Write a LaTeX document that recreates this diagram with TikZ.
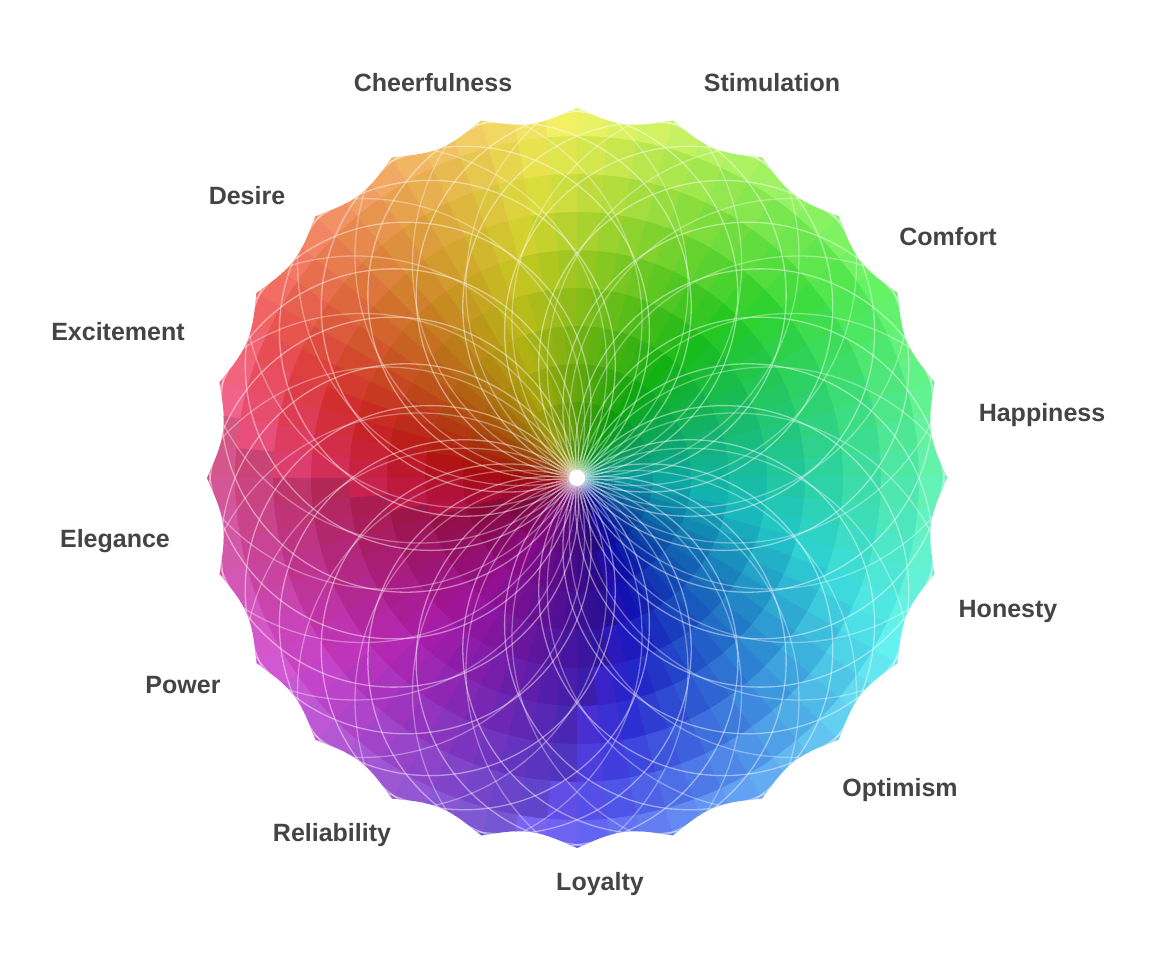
\documentclass[tikz,border=0pt]{standalone}
\usepackage{fontspec}
\setmainfont{Liberation Sans}
\definecolor{labelgray}{HTML}{444444}
\tikzset{lab/.style={font=\bfseries\fontsize{25}{28}\selectfont,text=labelgray}}
\begin{document}
\begin{tikzpicture}[x=1pt,y=1pt]
\useasboundingbox[fill=white] (0,0) rectangle (1152,959);
\coordinate (C) at (577,481);
\begin{scope}[shift={(577,481)}]
\clip plot[domain=0:360,samples=721,variable=\t] ({\t}:{370*(1-0.035*abs(sin(12*\t)))}) -- cycle;
\foreach \i in {0,...,71}{
  \foreach \j in {0,...,9}{
    \pgfmathsetmacro{\aa}{\i*5}
    \pgfmathsetmacro{\ab}{\i*5+5.3}
    \pgfmathsetmacro{\ra}{max(0.01,\j*38)}
    \pgfmathsetmacro{\rb}{(\j+1)*38+0.5}
    \pgfmathsetmacro{\f}{(\j+0.5)/10}
    \pgfmathsetmacro{\hh}{mod(150-\aa-2.5+35*(1-\f)+720,360)}
    \pgfmathsetmacro{\dk}{(\hh>250)*(\hh<340)*0.12}
    \pgfmathsetmacro{\ss}{0.95-0.4*\f*\f}
    \pgfmathsetmacro{\bb}{0.55+0.42*\f-\dk}
    \definecolor{cc}{Hsb}{\hh,\ss,\bb}
    \fill[cc] (\aa:\ra) arc[start angle=\aa,end angle=\ab,radius=\ra] -- (\ab:\rb) arc[start angle=\ab,end angle=\aa,radius=\rb] -- cycle;
  }
}
\foreach \k in {0,...,23}{
  \draw[white,opacity=0.45,line width=1.3] (\k*15+7.5:185) circle[radius=185];
  \draw[white,opacity=0.35,line width=1.3] (\k*15:222) circle[radius=222];
}
\end{scope}
\fill[white] (C) circle[radius=8];
\node[lab] (l1) at (433,876) {Cheerfulness};
\node[lab] (l2) at (772,876) {Stimulation};
\node[lab] (l3) at (247,763) {Desire};
\node[lab] (l4) at (948,722) {Comfort};
\node[lab] (l5) at (118,627) {Excitement};
\node[lab] (l6) at (1042,544) {Happiness};
\node[lab] (l7) at (115,418) {Elegance};
\node[lab] (l8) at (1008,348) {Honesty};
\node[lab] (l9) at (183,274) {Power};
\node[lab] (l10) at (900,169) {Optimism};
\node[lab] (l11) at (332,124) {Reliability};
\node[lab] (l12) at (600,75) {Loyalty};
\end{tikzpicture}
\end{document}
